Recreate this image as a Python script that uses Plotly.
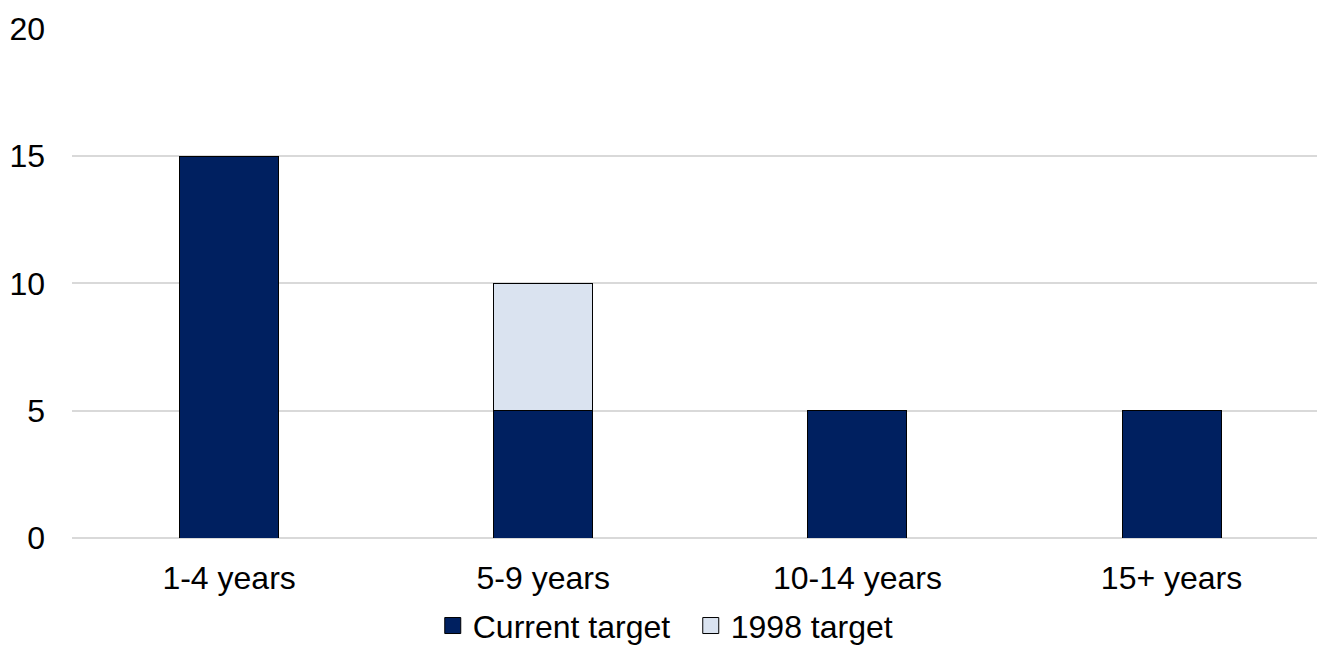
import plotly.graph_objects as go

categories = ["1-4 years", "5-9 years", "10-14 years", "15+ years"]
current_target = [15, 5, 5, 5]
target_1998 = [0, 5, 0, 0]
y_ticks = [0, 5, 10, 15, 20]

navy = "#002060"
light = "#DAE3F0"

fig = go.Figure()
fig.add_trace(go.Bar(x=categories, y=current_target, name="Current target",
                     marker=dict(color=navy, line=dict(color="#000000", width=1)),
                     width=0.315, showlegend=False))
fig.add_trace(go.Bar(x=categories, y=target_1998, name="1998 target",
                     marker=dict(color=light, line=dict(color="#000000", width=1)),
                     width=0.315, showlegend=False))
# legend entries with larger square swatches
fig.add_trace(go.Scatter(x=[None], y=[None], mode="markers", name="Current target",
                         marker=dict(symbol="square", size=17, color=navy,
                                     line=dict(color="#000000", width=1))))
fig.add_trace(go.Scatter(x=[None], y=[None], mode="markers", name="1998 target",
                         marker=dict(symbol="square", size=17, color=light,
                                     line=dict(color="#000000", width=1))))

fig.update_layout(
    barmode="stack",
    width=1317, height=648,
    margin=dict(l=72, r=0, t=28, b=110, autoexpand=False),
    plot_bgcolor="white", paper_bgcolor="white",
    font=dict(family="Liberation Sans, Arial, sans-serif", size=32, color="#000000"),
    xaxis=dict(range=[-0.5, 3.463], showgrid=False, showline=False, ticks="",
               tickfont=dict(size=32), ticklabelstandoff=18, type="category"),
    yaxis=dict(range=[0, 20.03], tickvals=y_ticks, showgrid=True, gridcolor="#D9D9D9",
               gridwidth=1.5, zeroline=True, zerolinecolor="#D9D9D9", zerolinewidth=1.5,
               showline=False, ticks="", ticklabelstandoff=26, tickfont=dict(size=32)),
    legend=dict(orientation="h", x=0.497, xanchor="center", y=-0.172, yanchor="middle",
                font=dict(size=32), traceorder="normal", itemwidth=30,
                entrywidth=213, entrywidthmode="pixels", tracegroupgap=0),
    showlegend=True,
)

fig.write_html("out.html")
